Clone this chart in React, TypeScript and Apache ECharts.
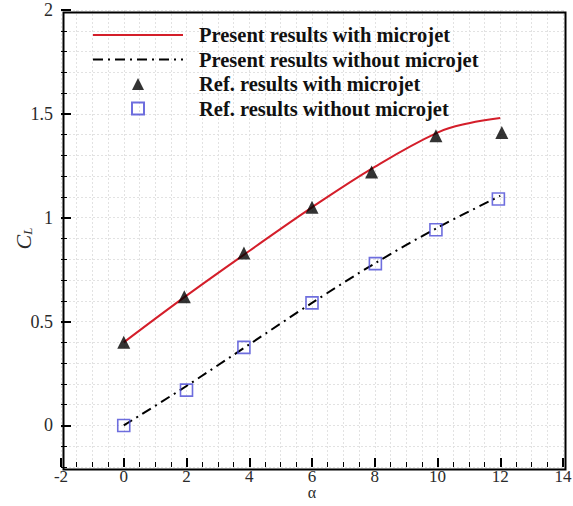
import React, { useEffect, useRef } from "react";
import * as echarts from "echarts";

// Angle of attack (deg) and lift coefficient samples
const presentWithAlpha = [0, 2, 4, 6, 8, 10, 11, 12];
const presentWithCL = [0.4, 0.625, 0.84, 1.05, 1.245, 1.41, 1.455, 1.48];

const presentWithoutAlpha = [0, 2, 4, 6, 8, 10, 12];
const presentWithoutCL = [0, 0.19, 0.39, 0.59, 0.78, 0.952, 1.105];

const refWithAlpha = [0, 1.93, 3.83, 6.0, 7.9, 9.95, 12.05];
const refWithCL = [0.4, 0.62, 0.83, 1.05, 1.22, 1.395, 1.41];

const refWithoutAlpha = [0, 2.0, 3.83, 6.0, 8.02, 9.95, 11.94];
const refWithoutCL = [0, 0.17, 0.376, 0.59, 0.779, 0.942, 1.09];

const yMajorTicks = [0, 0.5, 1, 1.5, 2];

const seriesNames = [
  "Present results with microjet",
  "Present results without microjet",
  "Ref. results with microjet",
  "Ref. results without microjet",
];

const pairs = (xs: number[], ys: number[]) => xs.map((x, i) => [x, ys[i]]);

const FONT = "'Liberation Serif', 'DejaVu Serif', serif";
const BLACK = "#000";
const LABEL = "#2a2a2a";
const X_RANGE = { min: -2, max: 14 };
const Y_RANGE = { min: -0.2, max: 2 };
const GRID = { left: 61, right: 10, top: 10, bottom: 39 };
const W = 573;
const H = 506;

export default function App() {
  const ref = useRef<HTMLDivElement>(null);

  useEffect(() => {
    if (!ref.current) return;
    const chart = echarts.init(ref.current, undefined, { renderer: "svg" });
    const gridLine = { show: true, lineStyle: { color: "#e2e2e2", type: [2, 2], width: 1 } };
    const hidden = {
      type: "value",
      axisLine: { show: false, onZero: false },
      axisTick: { show: false },
      axisLabel: { show: false },
      splitLine: { show: false },
    };
    const legendText = { fontFamily: FONT, fontSize: 20.5, fontWeight: "bold", color: "#111", lineHeight: 24 };
    chart.setOption({
      animation: false,
      backgroundColor: "#fff",
      grid: { ...GRID, outerBoundsMode: "none", containLabel: false },
      // plot frame
      graphic: [
        {
          type: "rect",
          left: GRID.left,
          top: GRID.top,
          shape: { width: W - GRID.left - GRID.right, height: H - GRID.top - GRID.bottom },
          style: { fill: "none", stroke: BLACK, lineWidth: 2 },
          silent: true,
          z: 20,
        },
      ],
      legend: [
        {
          orient: "vertical",
          left: 92,
          top: 23,
          padding: 0,
          itemWidth: 90,
          itemHeight: 12,
          itemGap: 0.5,
          data: [
            { name: seriesNames[0], itemStyle: { opacity: 0 } },
            { name: seriesNames[1], itemStyle: { opacity: 0 } },
          ],
          textStyle: { ...legendText, padding: [0, 0, 0, 11] },
        },
        {
          orient: "vertical",
          left: 131,
          top: 72,
          padding: 0,
          itemWidth: 12,
          itemHeight: 12,
          itemGap: 0.5,
          data: [seriesNames[2], seriesNames[3]],
          textStyle: { ...legendText, padding: [0, 0, 0, 50] },
        },
      ],
      xAxis: [
        {
          type: "value",
          ...X_RANGE,
          interval: 2,
          position: "bottom",
          name: "α",
          nameLocation: "middle",
          nameGap: 19,
          nameMoveOverlap: false,
          nameTextStyle: { fontFamily: FONT, fontSize: 16, color: LABEL, lineHeight: 12 },
          axisLine: { show: false, onZero: false },
          axisTick: { show: true, inside: true, length: 9, lineStyle: { color: BLACK, width: 2 } },
          minorTick: { show: true, splitNumber: 4, length: 5, lineStyle: { color: BLACK, width: 1 } },
          splitLine: { show: false },
          axisLabel: { fontFamily: FONT, fontSize: 17, color: LABEL, margin: 2, lineHeight: 14 },
          z: 10,
        },
        // background grid: one line every half degree
        { ...hidden, ...X_RANGE, interval: 0.5, splitLine: gridLine, z: 0 },
      ],
      yAxis: [
        {
          type: "value",
          ...Y_RANGE,
          position: "left",
          name: "{c|C}{l|L}",
          nameLocation: "middle",
          nameRotate: 90,
          nameGap: 27,
          nameMoveOverlap: false,
          nameTextStyle: {
            rich: {
              c: { fontFamily: FONT, fontStyle: "italic", fontSize: 22, color: LABEL },
              l: { fontFamily: FONT, fontStyle: "italic", fontSize: 13, color: LABEL, padding: [9, 0, 0, 0] },
            },
          },
          axisLine: { show: false, onZero: false },
          axisTick: {
            show: true,
            inside: true,
            length: 10,
            customValues: yMajorTicks,
            lineStyle: { color: BLACK, width: 2 },
          },
          splitLine: { show: false },
          axisLabel: {
            customValues: yMajorTicks,
            fontFamily: FONT,
            fontSize: 18,
            color: LABEL,
            margin: 8,
          },
          z: 10,
        },
        // minor ticks every 0.1
        {
          ...hidden,
          ...Y_RANGE,
          interval: 0.1,
          position: "left",
          axisTick: { show: true, inside: true, length: 6, lineStyle: { color: BLACK, width: 1 } },
          z: 10,
        },
        // background grid every 0.1
        { ...hidden, ...Y_RANGE, interval: 0.1, position: "left", splitLine: gridLine, z: 0 },
      ],
      series: [
        {
          name: seriesNames[0],
          type: "line",
          smooth: 0.4,
          symbol: "none",
          data: pairs(presentWithAlpha, presentWithCL),
          lineStyle: { color: "#d41e2a", width: 2 },
          itemStyle: { color: "#d41e2a" },
          z: 3,
        },
        {
          name: seriesNames[1],
          type: "line",
          smooth: 0.3,
          symbol: "none",
          data: pairs(presentWithoutAlpha, presentWithoutCL),
          lineStyle: { color: BLACK, width: 2, type: [10, 5, 2, 5] },
          itemStyle: { color: BLACK },
          z: 3,
        },
        {
          name: seriesNames[2],
          type: "scatter",
          symbol: "triangle",
          symbolSize: 13,
          data: pairs(refWithAlpha, refWithCL),
          itemStyle: { color: BLACK },
          z: 4,
        },
        {
          name: seriesNames[3],
          type: "scatter",
          symbol: "rect",
          symbolSize: 12,
          data: pairs(refWithoutAlpha, refWithoutCL),
          itemStyle: { color: "rgba(255,255,255,0)", borderColor: "#4a4ad6", borderWidth: 1.6 },
          z: 4,
        },
      ],
    });
    return () => chart.dispose();
  }, []);

  return <div ref={ref} style={{ position: "absolute", left: 0, top: 0, width: W, height: H }} />;
}
